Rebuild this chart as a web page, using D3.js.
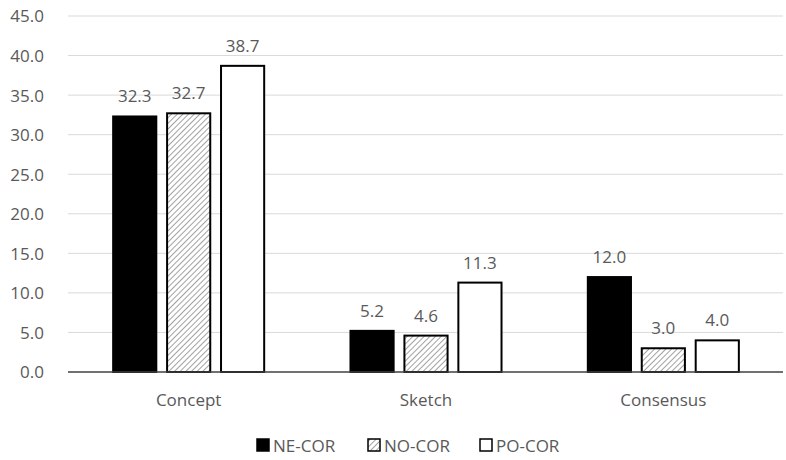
<!DOCTYPE html>
<html><head><meta charset="utf-8">
<script src="https://cdn.jsdelivr.net/npm/d3@7"></script>
<style>body{margin:0;background:#fff}text{font-family:"Open Sans","Noto Sans",sans-serif}</style>
</head><body><svg id="c" width="786" height="460"></svg>
<script>
const categories = ["Concept", "Sketch", "Consensus"];
const seriesNames = ["NE-COR", "NO-COR", "PO-COR"];
const neCor = [32.3, 5.2, 12.0];
const noCor = [32.7, 4.6, 3.0];
const poCor = [38.7, 11.3, 4.0];
const yTicks = [0, 5, 10, 15, 20, 25, 30, 35, 40, 45];

const series = [neCor, noCor, poCor];
const svg = d3.select("#c");
const defs = svg.append("defs");
const pat = defs.append("pattern").attr("id", "hatch").attr("patternUnits", "userSpaceOnUse")
  .attr("width", 4).attr("height", 4).attr("patternTransform", "rotate(45)");
pat.append("rect").attr("width", 4).attr("height", 4).attr("fill", "#fff");
pat.append("line").attr("x1", 0).attr("y1", 0).attr("x2", 0).attr("y2", 4)
  .attr("stroke", "#8a8a8a").attr("stroke-width", 1.6);
const fills = ["#000", "url(#hatch)", "#fff"];

const x0 = d3.scaleBand().domain(categories).range([70, 782]).paddingInner(0).paddingOuter(0);
const x1 = d3.scaleBand().domain(seriesNames).range([0, x0.bandwidth()]).paddingInner(0.2).paddingOuter(0.8);
const y = d3.scaleLinear().domain([0, 45]).range([372, 16]);
const grey = "#595959";

const g = svg.append("g");
g.selectAll(".grid").data(yTicks.filter(d => d > 0)).join("line")
  .attr("x1", 68).attr("x2", 783).attr("y1", d => y(d)).attr("y2", d => y(d))
  .attr("stroke", "#d9d9d9").attr("stroke-width", 1);

const yAxis = d3.axisLeft(y).tickValues(yTicks).tickFormat(d3.format(".1f")).tickSize(0).tickPadding(0);
const ya = svg.append("g").attr("transform", "translate(44,0)").call(yAxis);
ya.select(".domain").remove();
ya.selectAll("text").attr("fill", grey).style("font-size", "17px").attr("dy", "0.35em");

categories.forEach((c, ci) => {
  const grp = g.append("g").attr("transform", `translate(${x0(c)},0)`);
  grp.selectAll("rect").data(seriesNames).join("rect")
    .attr("x", s => x1(s)).attr("width", x1.bandwidth())
    .attr("y", (s, si) => y(series[si][ci])).attr("height", (s, si) => y(0) - y(series[si][ci]))
    .attr("fill", (s, si) => fills[si]).attr("stroke", "#000").attr("stroke-width", 2);
  grp.selectAll("text").data(seriesNames).join("text")
    .attr("x", s => x1(s) + x1.bandwidth() / 2)
    .attr("y", (s, si) => y(series[si][ci]) - 14)
    .attr("text-anchor", "middle").attr("fill", grey).style("font-size", "17px")
    .text((s, si) => d3.format(".1f")(series[si][ci]));
});

svg.append("line").attr("x1", 68).attr("x2", 783).attr("y1", y(0)).attr("y2", y(0))
  .attr("stroke", "#404040").attr("stroke-width", 1.5);

const xAxis = d3.axisBottom(x0).tickSize(0).tickPadding(0);
const xa = svg.append("g").attr("transform", `translate(0,${y(0)})`).call(xAxis);
xa.select(".domain").remove();
xa.selectAll("text").attr("fill", grey).style("font-size", "17px").attr("dy", "0").attr("y", 34);

const legX = [257, 368, 480];
const leg = svg.append("g");
seriesNames.forEach((s, i) => {
  leg.append("rect").attr("x", legX[i]).attr("y", 439).attr("width", 12).attr("height", 12)
    .attr("fill", fills[i]).attr("stroke", "#000").attr("stroke-width", 1.5);
  leg.append("text").attr("x", legX[i] + 16).attr("y", 452).attr("fill", grey)
    .style("font-size", "17px").text(s);
});
</script></body></html>
